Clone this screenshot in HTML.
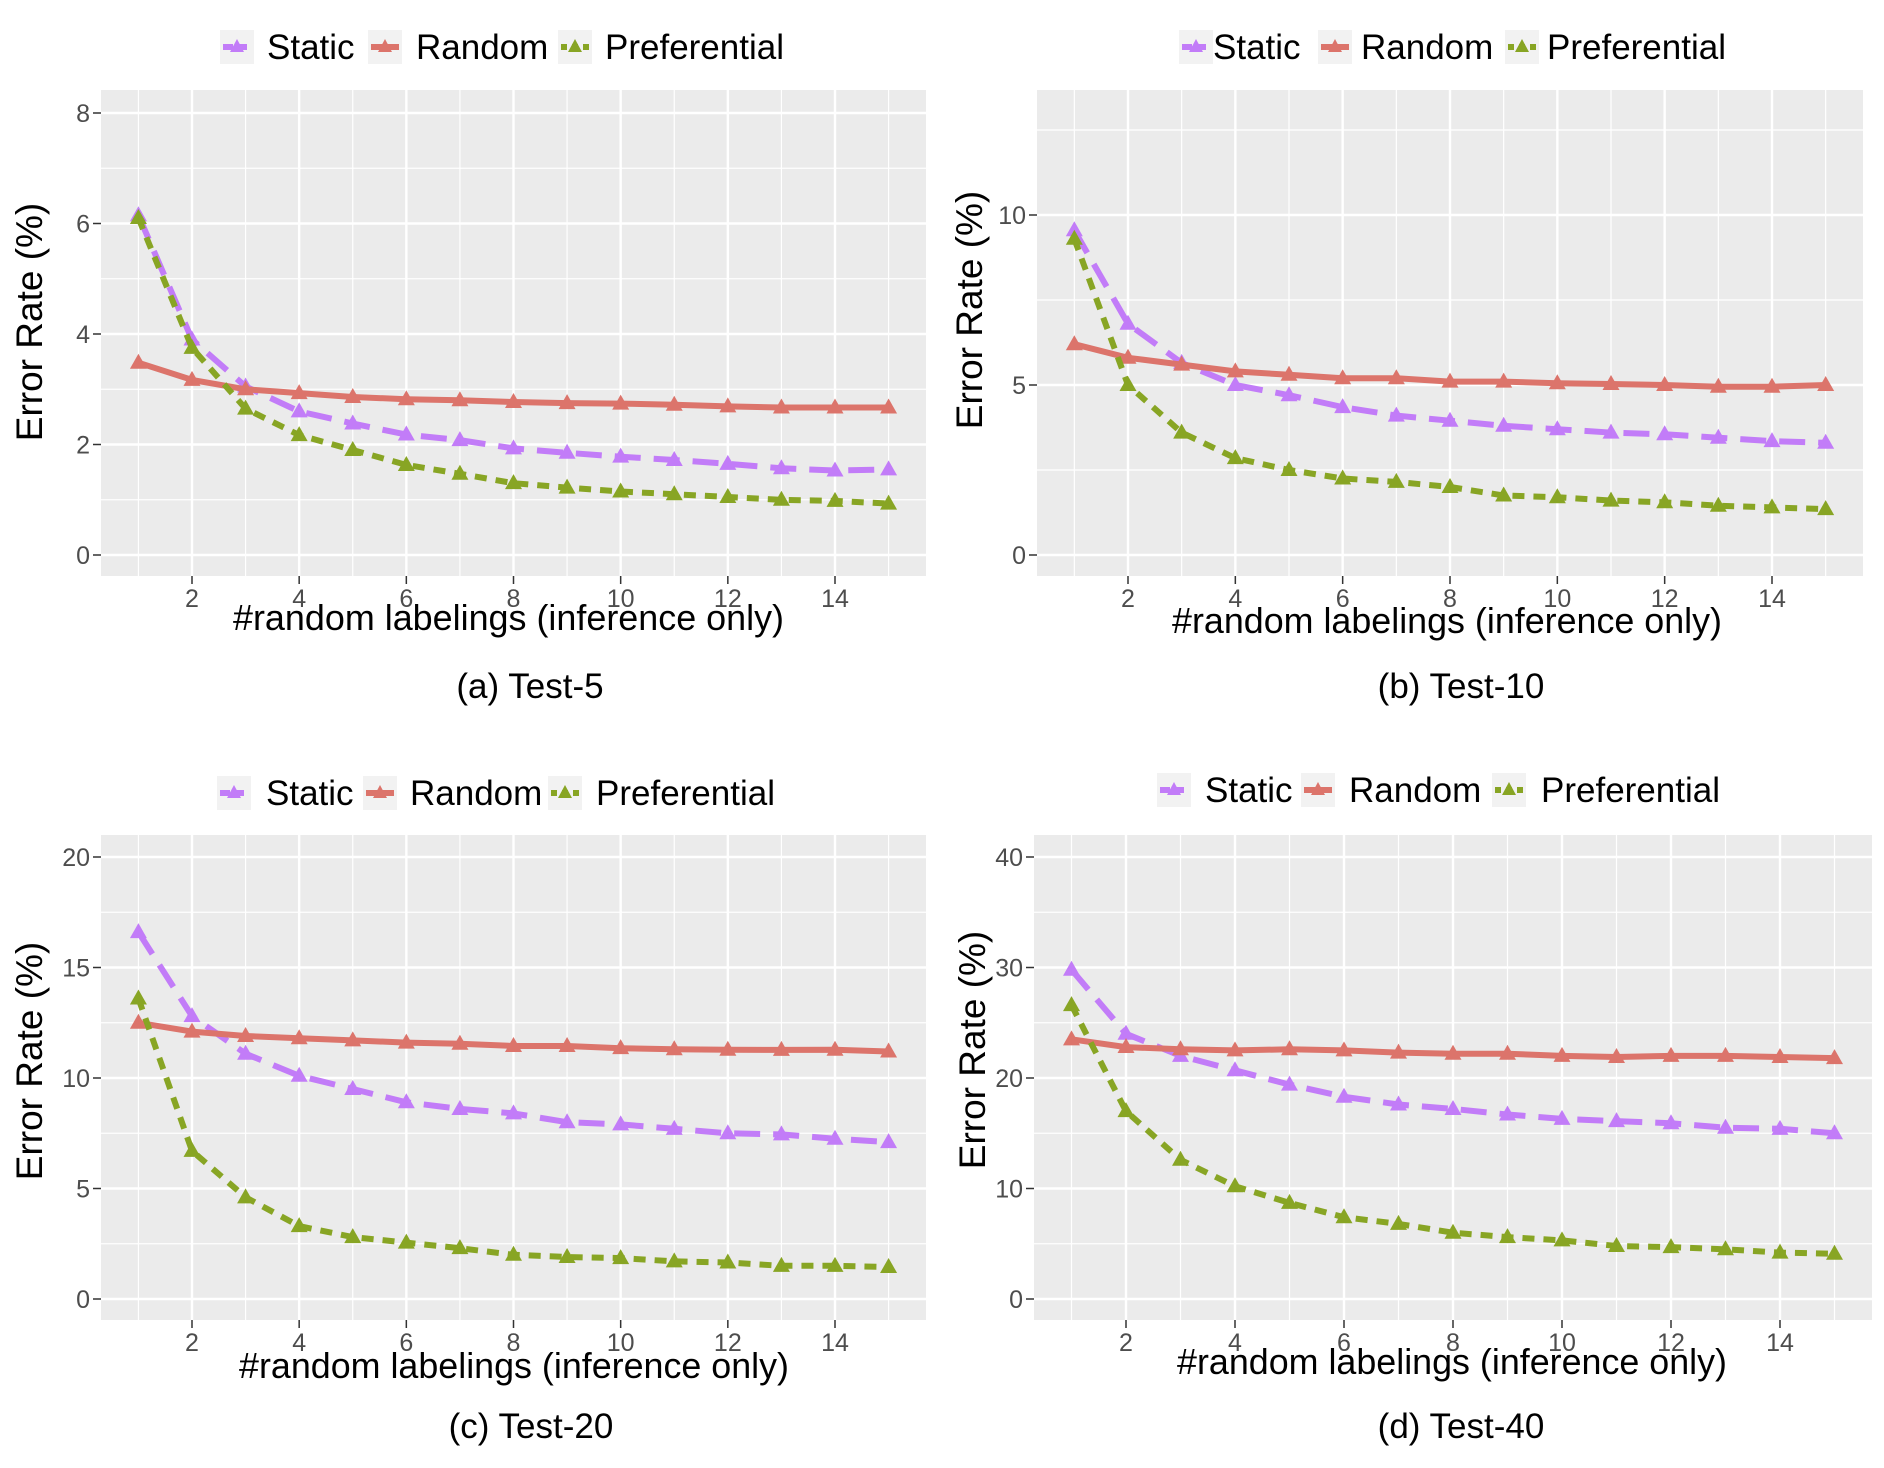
<!DOCTYPE html>
<html><head><meta charset="utf-8"><style>
html,body{margin:0;padding:0;background:#fff}
svg{display:block}
</style></head><body>
<svg id="fig" width="1884" height="1468" viewBox="0 0 1884 1468" xmlns="http://www.w3.org/2000/svg" font-family="Liberation Sans, Arial, sans-serif"></svg>
<script>
const categories = [1,2,3,4,5,6,7,8,9,10,11,12,13,14,15];
const xTicks = [2,4,6,8,10,12,14];
const seriesNames = ["Static","Random","Preferential"];
const aStatic = [6.15,3.9,3.05,2.6,2.38,2.18,2.08,1.93,1.85,1.78,1.72,1.65,1.57,1.53,1.55];
const aRandom = [3.48,3.17,3.0,2.93,2.86,2.82,2.8,2.77,2.75,2.74,2.72,2.69,2.67,2.67,2.67];
const aPref = [6.1,3.75,2.65,2.17,1.9,1.63,1.47,1.3,1.22,1.15,1.1,1.05,1.0,0.98,0.93];
const bStatic = [9.55,6.8,5.65,5.0,4.7,4.35,4.1,3.95,3.8,3.7,3.6,3.55,3.45,3.35,3.3];
const bRandom = [6.2,5.8,5.6,5.4,5.3,5.2,5.2,5.1,5.1,5.05,5.03,5.0,4.95,4.95,5.0];
const bPref = [9.3,5.0,3.6,2.85,2.5,2.25,2.15,2.0,1.75,1.7,1.6,1.55,1.45,1.4,1.35];
const cStatic = [16.6,12.8,11.1,10.1,9.5,8.9,8.6,8.4,8.0,7.9,7.7,7.5,7.45,7.25,7.1];
const cRandom = [12.5,12.1,11.9,11.8,11.7,11.6,11.55,11.45,11.45,11.35,11.3,11.28,11.27,11.28,11.2];
const cPref = [13.6,6.7,4.6,3.3,2.8,2.55,2.3,2.0,1.9,1.85,1.7,1.65,1.5,1.5,1.45];
const dStatic = [29.8,24.0,22.0,20.7,19.4,18.3,17.6,17.2,16.7,16.3,16.1,15.9,15.5,15.4,15.0];
const dRandom = [23.5,22.8,22.6,22.5,22.6,22.5,22.3,22.2,22.2,22.0,21.9,22.0,22.0,21.9,21.8];
const dPref = [26.6,17.0,12.6,10.2,8.7,7.4,6.8,6.0,5.6,5.3,4.8,4.7,4.5,4.2,4.1];
const aYTicks = [0,2,4,6,8];
const bYTicks = [0,5,10];
const cYTicks = [0,5,10,15,20];
const dYTicks = [0,10,20,30,40];
const captions = ["(a) Test-5","(b) Test-10","(c) Test-20","(d) Test-40"];

const NS="http://www.w3.org/2000/svg";
const svg=document.getElementById('fig');
function mk(tag,attrs,parent){const e=document.createElementNS(NS,tag);for(const k in attrs)e.setAttribute(k,attrs[k]);(parent||svg).appendChild(e);return e;}
const colors=["#C27CF8","#DC746B","#88A524"];
const dashes=["26 13","","12 9"];

const panels=[
 {id:"a",bg:[101,90,926,576],x2:192,x14:835,y0:555,ppu:55.25,yt:aYTicks,minorStep:1,data:[aStatic,aRandom,aPref],
  leg:{cy:47,keys:[220,368,558],texts:[267,416,605]},ytx:29,ytyc:322,xt:[233,784,630],cap:[530,698]},
 {id:"b",bg:[1037,90,1863,576],x2:1128,x14:1772,y0:555,ppu:34,yt:bYTicks,minorStep:2.5,data:[bStatic,bRandom,bPref],
  leg:{cy:47,keys:[1179,1318,1505],texts:[1213,1361,1547]},ytx:969,ytyc:310,xt:[1172,1722,633],cap:[1461,698]},
 {id:"c",bg:[101,835,926,1320],x2:192,x14:835,y0:1299,ppu:22.1,yt:cYTicks,minorStep:2.5,data:[cStatic,cRandom,cPref],
  leg:{cy:793,keys:[217,363,548],texts:[266,410,596]},ytx:29,ytyc:1061,xt:[239,789,1378],cap:[531,1438]},
 {id:"d",bg:[1034,835,1872,1320],x2:1126,x14:1780,y0:1299,ppu:11.05,yt:dYTicks,minorStep:5,data:[dStatic,dRandom,dPref],
  leg:{cy:790,keys:[1157,1301,1492],texts:[1205,1349,1541]},ytx:972,ytyc:1050,xt:[1177,1727,1374],cap:[1461,1438]}
];

panels.forEach(p=>{
  const g=mk('g',{});
  
  
  const [L,T,R,B]=p.bg;
  const xs=v=>p.x2+(v-2)*(p.x14-p.x2)/12;
  const ys=v=>p.y0-v*p.ppu;
  const bg=mk('rect',{x:L,y:T,width:R-L,height:B-T,fill:"#EBEBEB"},g);
  
  
  for(let v=p.yt[0]-p.minorStep;v<=p.yt[p.yt.length-1]+p.minorStep*2;v+=p.minorStep){
    const y=ys(v); if(y<T||y>B)continue;
    const major=p.yt.some(t=>Math.abs(t-v)<1e-6);
    mk('line',{x1:L,x2:R,y1:y,y2:y,stroke:"#fff","stroke-width":major?2.4:1.2},g);
  }
  for(let v=1;v<=15;v++){
    const x=xs(v);
    mk('line',{x1:x,x2:x,y1:T,y2:B,stroke:"#fff","stroke-width":v%2===0?2.4:1.2},g);
  }
  p.yt.forEach(t=>{
    const y=ys(t);
    mk('line',{x1:L-8,x2:L,y1:y,y2:y,stroke:"#333","stroke-width":1.5},g);
    const tx=mk('text',{x:L-11,y:y+9,"text-anchor":"end","font-size":25,fill:"#4D4D4D"},g);
    tx.textContent=t;
    
    
  });
  xTicks.forEach(t=>{
    const x=xs(t);
    mk('line',{x1:x,x2:x,y1:B,y2:B+8,stroke:"#333","stroke-width":1.5},g);
    const tx=mk('text',{x:x,y:B+31,"text-anchor":"middle","font-size":25,fill:"#4D4D4D"},g);
    tx.textContent=t;
    
    
  });
  p.data.forEach((arr,si)=>{
    const pts=arr.map((v,i)=>xs(categories[i]).toFixed(1)+","+ys(v).toFixed(1)).join(" ");
    const pl=mk('polyline',{points:pts,fill:"none",stroke:colors[si],"stroke-width":6,"stroke-linejoin":"round"},g);
    if(dashes[si])pl.setAttribute('stroke-dasharray',dashes[si]);
    
    
    arr.forEach((v,i)=>{
      const x=xs(categories[i]),y=ys(v);
      const m=mk('polygon',{points:`${x},${y-9} ${x-8.5},${y+6} ${x+8.5},${y+6}`,fill:colors[si]},g);
      
      
    });
  });
  p.data.forEach((arr,si)=>{
    const kx=p.leg.keys[si],cy=p.leg.cy;
    const lg=mk('g',{},g);
    
    
    mk('rect',{x:kx,y:cy-17,width:34,height:34,fill:"#F2F2F2"},lg);
    const ll=mk('line',{x1:kx+3,x2:kx+31,y1:cy,y2:cy,stroke:colors[si],"stroke-width":6},lg);
    if(si===0)ll.setAttribute('stroke-dasharray','10 4');
    if(si===2)ll.setAttribute('stroke-dasharray','6 5');
    mk('polygon',{points:`${kx+17},${cy-8} ${kx+10},${cy+5} ${kx+24},${cy+5}`,fill:colors[si]},lg);
    const tt=mk('text',{x:p.leg.texts[si],y:cy+12,"font-size":35,fill:"#000"},lg);
    tt.textContent=seriesNames[si];
  });
  const yt=mk('text',{x:0,y:0,"font-size":37,"text-anchor":"middle",fill:"#000",transform:`translate(${p.ytx+13},${p.ytyc}) rotate(-90)`},g);
  yt.textContent="Error Rate (%)";
  
  
  const xt=mk('text',{x:p.xt[0],y:p.xt[2],"font-size":36,fill:"#000",textLength:p.xt[1]-p.xt[0],lengthAdjust:"spacingAndGlyphs"},g);
  xt.textContent="#random labelings (inference only)";
  
  
  const cap=mk('text',{x:p.cap[0],y:p.cap[1],"font-size":35,"text-anchor":"middle",fill:"#000"},g);
  cap.textContent=captions["abcd".indexOf(p.id)];
  
  
});
</script>
</body></html>
